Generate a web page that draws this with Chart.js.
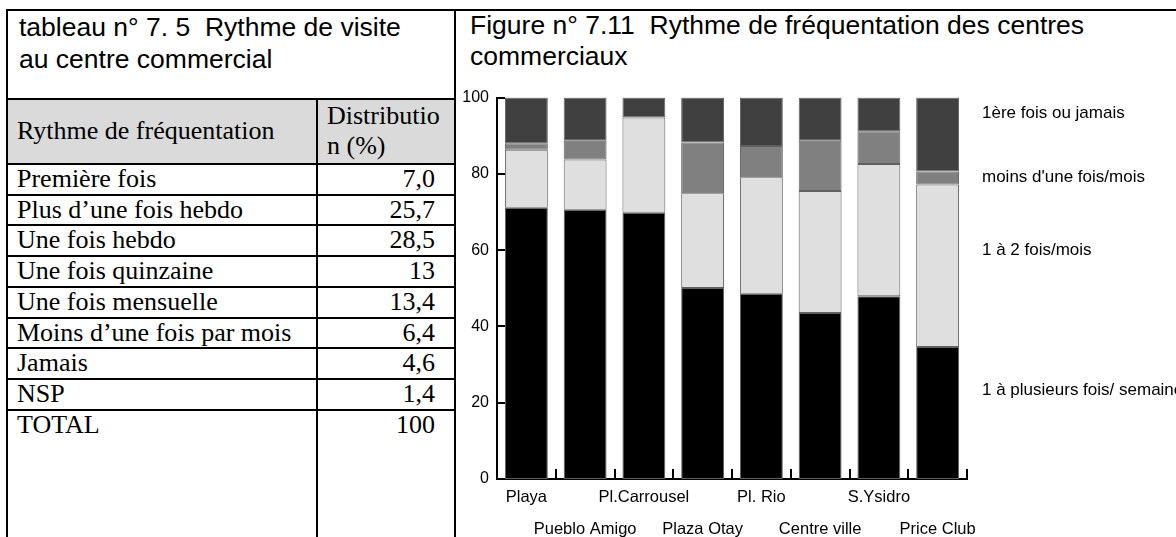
<!DOCTYPE html>
<html>
<head>
<meta charset="utf-8">
<title>Rythme de fréquentation des centres commerciaux</title>
<script src="https://cdn.jsdelivr.net/npm/chart.js"></script>
<style>
	body { margin: 0; width: 1176px; height: 537px; overflow: hidden; background: #fff; position: relative; font-family: "Liberation Sans", Arial, sans-serif; color: #000; }
	#topLine { position: absolute; left: 6px; top: 9px; width: 1170px; height: 2px; background: #000; }
	#tablePanel { position: absolute; left: 6px; top: 11px; width: 446px; height: 560px; border-left: 2px solid #000; border-right: 2px solid #000; }
	#tableTitle { height: 87px; padding-left: 11px; font-size: 26.5px; line-height: 32px; border-bottom: 2px solid #000; white-space: nowrap; }
	#freqTable { width: 100%; border-collapse: collapse; table-layout: fixed; font-family: "Liberation Serif", "Times New Roman", serif; font-size: 26px; }
	#freqTable td, #freqTable th { border-top: 2px solid #000; padding: 0 7px 0 9px; font-weight: normal; line-height: 28.7px; height: 28.7px; overflow: hidden; white-space: nowrap; }
	#freqTable tr:first-child th { border-top: none; }
	#freqTable th { background: #dadada; text-align: left; height: 62px; }
	#freqTable th.val { line-height: 30px; vertical-align: top; padding-top: 1px; white-space: normal; }
	#freqTable td.val { text-align: right; padding-right: 19px; }
	#freqTable .val { border-left: 2px solid #000; }
	#freqTable tr.total td { height: 200px; vertical-align: top; }
	#figTitle { position: absolute; left: 470px; top: 10px; font-size: 26.5px; line-height: 31px; white-space: nowrap; }
	#chartBox { position: absolute; left: 458px; top: 80px; width: 718px; height: 457px; }
</style>
</head>
<body>
<div id="topLine"></div>
<div id="tablePanel">
	<div id="tableTitle">tableau n° 7. 5&nbsp; Rythme de visite<br>au centre commercial</div>
	<table id="freqTable">
		<colgroup><col style="width:309px"><col></colgroup>
		<thead><tr><th>Rythme de fréquentation</th><th class="val">Distributio n (%)</th></tr></thead>
		<tbody id="freqBody"></tbody>
	</table>
</div>
<div id="figTitle">Figure n° 7.11&nbsp; Rythme de fréquentation des centres<br>commerciaux</div>
<div id="chartBox"><canvas id="stacked-barcanvas" width="718" height="457"></canvas></div>

<script>
// tableau 7.5
var freqLabels = ['Première fois', 'Plus d\u2019une fois hebdo', 'Une fois hebdo', 'Une fois quinzaine', 'Une fois mensuelle', 'Moins d\u2019une fois par mois', 'Jamais', 'NSP', 'TOTAL'];
var freqValues = ['7,0', '25,7', '28,5', '13', '13,4', '6,4', '4,6', '1,4', '100'];

// figure 7.11
var centres = ['Playa', 'Pueblo Amigo', 'Pl.Carrousel', 'Plaza Otay', 'Pl. Rio', 'Centre ville', 'S.Ysidro', 'Price Club'];
var seriesNames = ['1 à plusieurs fois/ semaine', '1 à 2 fois/mois', 'moins d\'une fois/mois', '1ère fois ou jamais'];
var hebdo = [71.1, 70.6, 69.8, 50.1, 48.6, 43.5, 47.9, 34.6];
var mensuel = [15.2, 13.2, 25.0, 24.8, 30.5, 32.0, 34.7, 42.6];
var moinsMois = [1.7, 4.9, 0, 13.3, 8.2, 13.2, 8.6, 3.4];
var jamais = [12.0, 11.3, 5.2, 11.8, 12.7, 11.3, 8.8, 19.4];
var yTicks = [0, 20, 40, 60, 80, 100];

var body = document.getElementById('freqBody');
for (var i in freqLabels) {
	var tr = document.createElement('tr');
	if (freqLabels[i] == 'TOTAL') tr.className = 'total';
	tr.innerHTML = '<td>' + freqLabels[i] + '</td><td class="val">' + freqValues[i] + '</td>';
	body.appendChild(tr);
}

// labels alternate between two rows under the axis
var xLabels = [];
for (var i in centres) {
	xLabels.push(i % 2 == 0 ? [centres[i], ''] : ['', centres[i]]);
}

var fills = ['#000000', '#dfdfdf', '#808080', '#404040'];
var series = [hebdo, mensuel, moinsMois, jamais];
var datasets = [];
for (var i in series) {
	datasets.push({
		label : seriesNames[i],
		data : series[i],
		backgroundColor : fills[i],
		borderColor : '#606060',
		borderWidth : 1,
		borderSkipped : false,
		barPercentage : 0.73,
		categoryPercentage : 1
	});
}

// ticks point inwards, so they are drawn here
var innerTicks = {
	id : 'innerTicks',
	afterDraw : function(chart) {
		var ctx = chart.ctx, x = chart.scales.x, y = chart.scales.y, area = chart.chartArea;
		ctx.save();
		ctx.strokeStyle = '#000';
		ctx.lineWidth = 2;
		ctx.beginPath();
		for (var j in yTicks) {
			var py = Math.round(y.getPixelForValue(yTicks[j]));
			ctx.moveTo(area.left, py);
			ctx.lineTo(area.left + 8, py);
		}
		for (var k = 1; k <= centres.length; k++) {
			var px = Math.round(x.getPixelForValue(k - 0.5));
			ctx.moveTo(px, area.bottom);
			ctx.lineTo(px, area.bottom - 10);
		}
		ctx.stroke();
		ctx.restore();
	}
};

// series names written at the right of the bars
var sideLegend = {
	id : 'sideLegend',
	afterDraw : function(chart) {
		var ctx = chart.ctx, y = chart.scales.y, area = chart.chartArea;
		var at = [23.3, 60, 79, 95.8];
		ctx.save();
		ctx.font = '17px "Liberation Sans", Arial, sans-serif';
		ctx.fillStyle = '#000';
		ctx.textBaseline = 'middle';
		chart.data.datasets.forEach(function(ds, n) {
			ctx.fillText(ds.label, area.right + 15, y.getPixelForValue(at[n]));
		});
		ctx.restore();
	}
};

var ctx = document.getElementById('stacked-barcanvas');
var bar = new Chart(ctx, {
	type : 'bar',
	data : {
		labels : xLabels,
		datasets : datasets
	},
	options : {
		responsive : false,
		animation : false,
		layout : { padding : { top : 17, right : 209, left : 0, bottom : 0 } },
		plugins : {
			legend : { display : false },
			tooltip : { enabled : false }
		},
		scales : {
			x : {
				stacked : true,
				grid : { display : false, drawTicks : false },
				border : { color : '#000', width : 2 },
				ticks : {
					autoSkip : false,
					maxRotation : 0,
					padding : 2,
					color : '#000',
					font : { family : '"Liberation Sans", Arial, sans-serif', size : 16.5, lineHeight : 1.94 }
				},
				afterFit : function(scale) { scale.height = 58; }
			},
			y : {
				stacked : true,
				min : 0,
				max : 100,
				grid : { display : false, drawTicks : false },
				border : { color : '#000', width : 2 },
				ticks : {
					stepSize : 20,
					padding : 8,
					color : '#000',
					font : { family : '"Liberation Sans", Arial, sans-serif', size : 16 }
				},
				afterFit : function(scale) { scale.width = 39; }
			}
		}
	},
	plugins : [innerTicks, sideLegend]
});
</script>
</body>
</html>
